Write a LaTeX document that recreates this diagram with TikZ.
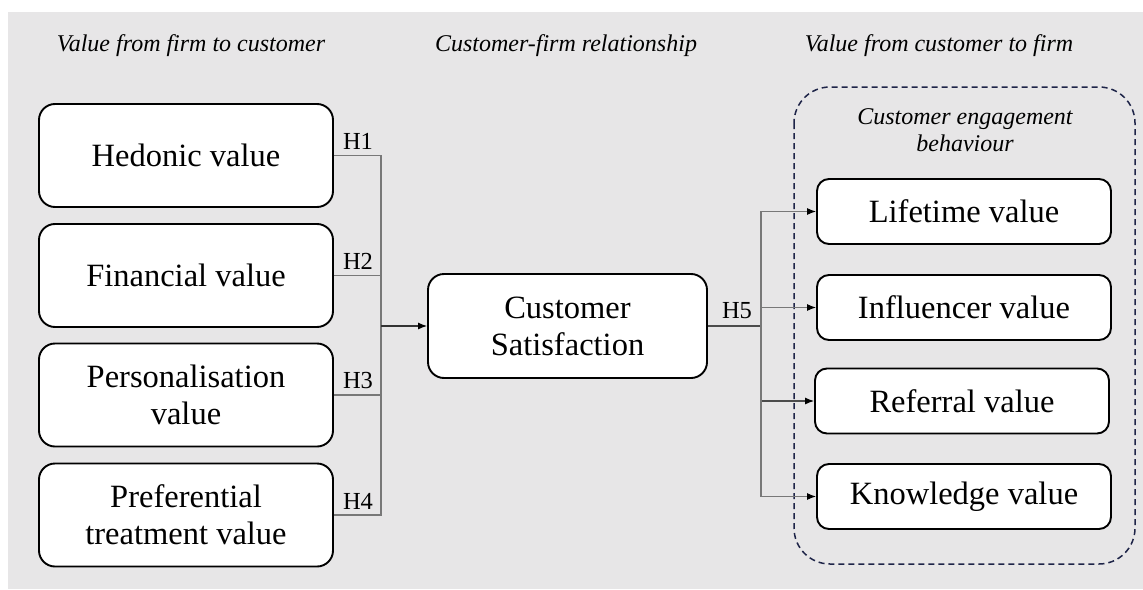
\documentclass[tikz,border=0pt]{standalone}
\usepackage{fontspec}
\setmainfont{Liberation Serif}
\usetikzlibrary{arrows.meta,calc}
\definecolor{bggray}{RGB}{231,230,231}
\definecolor{conngray}{RGB}{120,120,120}
\definecolor{dashnavy}{RGB}{30,36,72}
\tikzset{
  x=1pt,y=-1pt,
  valbox/.style={draw=black,fill=white,line width=1.9pt,rounded corners=16pt,
    minimum width=294pt,minimum height=103pt,align=center,inner sep=0pt,
    font=\fontsize{32.5}{37}\selectfont},
  cebox/.style={valbox,rounded corners=12pt,minimum height=65pt},
  hdr/.style={font=\fontsize{24}{26.5}\selectfont\itshape,align=center,inner sep=0pt},
  hl/.style={font=\fontsize{24.5}{26}\selectfont,inner sep=0pt},
  conn/.style={draw=conngray,line width=1.1pt},
  arr/.style={line width=1.1pt,-{Latex[length=9pt,width=7pt,black]}},
}
\begin{document}
\begin{tikzpicture}
\useasboundingbox (0,0) rectangle (1143,589);
\fill[white] (0,0) rectangle (1143,589);
\fill[bggray] (8,12) rectangle (1143,589);

% headers
\node[hdr] (t1) at (191,46) {Value from firm to customer};
\node[hdr] (t2) at (566,46) {Customer-firm relationship};
\node[hdr] (t3) at (939,46) {Value from customer to firm};

% dashed group
\draw[dashnavy,line width=1.5pt,dash pattern=on 6pt off 4pt,rounded corners=36pt]
  (794,87) rectangle (1135,564);
\node[hdr] (ceb) at (965,130) {Customer engagement\\behaviour};

% left boxes
\node[valbox] (hed) at (186,155.5) {Hedonic value};
\node[valbox] (fin) at (186,275.5) {Financial value};
\node[valbox] (per) at (186,395) {Personalisation\\value};
\node[valbox] (pre) at (186,515) {Preferential\\treatment value};

% central
\node[valbox,minimum width=279pt,minimum height=104pt] (cs) at (567.5,326) {Customer\\Satisfaction};

% right boxes
\node[cebox] (lif) at (964,211.5) {Lifetime value};
\node[cebox] (inf) at (964,307.5) {Influencer value};
\node[cebox] (ref) at (962,401) {Referral value};
\node[cebox] (kno) at (964,496.5) {Knowledge value};

% left connectors
\coordinate (jx) at (381,326);
\draw[conn] (hed.east) -| (jx);
\draw[conn] (fin.east) -| (jx);
\draw[conn] (per.east) -| (jx);
\draw[conn] (pre.east) -| (jx);
\draw[arr,draw=black!80] (jx) -- (cs.west);

\node[hl] (h1) at (358,141) {H1};
\node[hl] (h2) at (358,261) {H2};
\node[hl] (h3) at (358,381) {H3};
\node[hl] (h4) at (358,501) {H4};

% right connectors
\coordinate (ky) at (761,326);
\draw[conn,draw=black!70] (cs.east) -- (ky);
\draw[conn,arr,draw=conngray] (ky) |- (lif.west);
\draw[conn,arr,draw=conngray] (ky) |- (inf.west);
\draw[conn,arr,draw=black!70] (ky) |- (ref.west);
\draw[conn,arr,draw=conngray] (ky) |- (kno.west);
\node[hl] (h5) at (737,311) {H5};
\end{tikzpicture}
\end{document}
